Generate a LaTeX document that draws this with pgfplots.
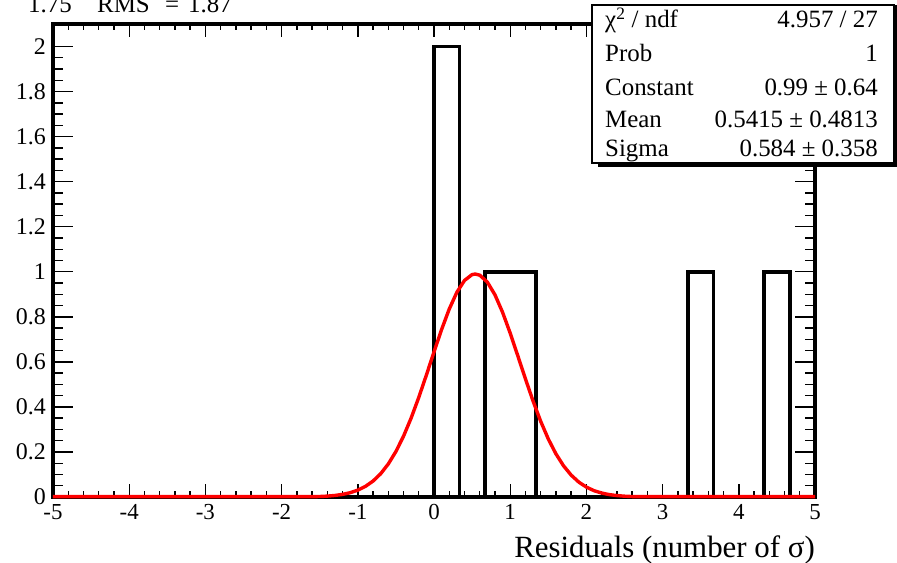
\documentclass[border=0pt]{standalone}
\usepackage{fontspec}
\setmainfont{Liberation Serif}
\usepackage{pgfplots}
\pgfplotsset{compat=1.18}
\begin{document}
\begin{tikzpicture}
\begin{axis}[
  scale only axis, width=762bp, height=473bp,
  xmin=-5, xmax=5, ymin=0, ymax=2.1,
  axis line style={line width=4bp},
  xtick={-5,-4,...,5}, minor x tick num=4,
  ytick={0,0.2,0.4,0.6,0.8,1,1.2,1.4,1.6,1.8,2}, minor y tick num=3,
  tick align=inside,
  tick style={line width=1.4bp, black},
  xtick style={/pgfplots/major tick length=13bp,/pgfplots/minor tick length=6bp},
  ytick style={/pgfplots/major tick length=20bp,/pgfplots/minor tick length=10bp},
  /pgf/number format/assume math mode=true,
  yticklabel style={/pgf/number format/fixed, font=\fontsize{24}{26}\selectfont, inner sep=0pt, xshift=-7bp},
  xticklabel style={font=\fontsize{23}{25}\selectfont, inner sep=0pt, yshift=-7bp},
  clip=false,
]
\addplot[const plot, line width=3.8bp, black] coordinates {
  (-5,0) (0,2) (0.3333,0) (0.6667,1) (1.3333,0) (3.3333,1) (3.6667,0) (4.3333,1) (4.6667,0) (5,0)
};
\addplot[red, line width=3.4bp, line join=round] coordinates {
  (-5,0.0015) (-1.6,0.0015) (-1.5,0.0022) (-1.4,0.0039) (-1.3,0.0069) (-1.2,0.0116) (-1.1,0.0191)
  (-1.0,0.0304) (-0.9,0.0471) (-0.8,0.0708) (-0.7,0.1033) (-0.6,0.1466)
  (-0.5,0.2019) (-0.4,0.2699) (-0.3,0.3506) (-0.2,0.4421) (-0.1,0.5415)
  (0.0,0.6441) (0.1,0.7439) (0.2,0.8344) (0.3,0.9089) (0.4,0.9614)
  (0.5,0.9875) (0.5415,0.99) (0.6,0.9850) (0.7,0.9541) (0.8,0.8976) (0.9,0.8200)
  (1.0,0.7274) (1.1,0.6267) (1.2,0.5243) (1.3,0.4259) (1.4,0.3360)
  (1.5,0.2575) (1.6,0.1916) (1.7,0.1384) (1.8,0.0971) (1.9,0.0662)
  (2.0,0.0438) (2.1,0.0281) (2.2,0.0176) (2.3,0.0106) (2.4,0.0063)
  (2.5,0.0036) (2.6,0.0020) (2.7,0.0015) (5,0.0015)
};
\coordinate (nw) at (rel axis cs:0,1);
\coordinate (se) at (rel axis cs:1,0);
\end{axis}
% x axis title
\node[anchor=base east, font=\fontsize{31}{33}\selectfont, inner sep=0pt]
  at ([xshift=0bp,yshift=-60bp]se) {Residuals (number of σ)};
% partially visible text at top
\begin{scope}[every node/.style={anchor=base west, font=\fontsize{25}{27}\selectfont, inner sep=0pt}]
\node at ([xshift=-25bp,yshift=11bp]nw) {1.75};
\node at ([xshift=44bp,yshift=11bp]nw) {RMS};
\node at ([xshift=112bp,yshift=11bp]nw) {=};
\node at ([xshift=135bp,yshift=11bp]nw) {1.87};
\end{scope}
% stats box
\fill[black] ([xshift=545bp,yshift=19bp]nw) rectangle ([xshift=844bp,yshift=-143bp]nw);
\draw[line width=1.2bp, fill=white] ([xshift=539bp,yshift=19bp]nw) rectangle ([xshift=841bp,yshift=-139bp]nw);
\begin{scope}[every node/.style={font=\fontsize{25}{27}\selectfont, inner sep=0pt}]
\node[anchor=base west] at ([xshift=552bp,yshift=-4bp]nw) {χ\textsuperscript{2} / ndf};
\node[anchor=base east] at ([xshift=825bp,yshift=-4bp]nw) {4.957 / 27};
\node[anchor=base west] at ([xshift=552bp,yshift=-38bp]nw) {Prob};
\node[anchor=base east] at ([xshift=825bp,yshift=-38bp]nw) {1};
\node[anchor=base west] at ([xshift=552bp,yshift=-72bp]nw) {Constant};
\node[anchor=base east] at ([xshift=825bp,yshift=-72bp]nw) {0.99 ± 0.64};
\node[anchor=base west] at ([xshift=552bp,yshift=-104bp]nw) {Mean};
\node[anchor=base east] at ([xshift=825bp,yshift=-104bp]nw) {0.5415 ± 0.4813};
\node[anchor=base west] at ([xshift=552bp,yshift=-133bp]nw) {Sigma};
\node[anchor=base east] at ([xshift=825bp,yshift=-133bp]nw) {0.584 ± 0.358};
\end{scope}
\pgfresetboundingbox
\path ([xshift=-53bp,yshift=24bp]nw) rectangle ([xshift=82bp,yshift=-66bp]se);
\end{tikzpicture}
\end{document}
